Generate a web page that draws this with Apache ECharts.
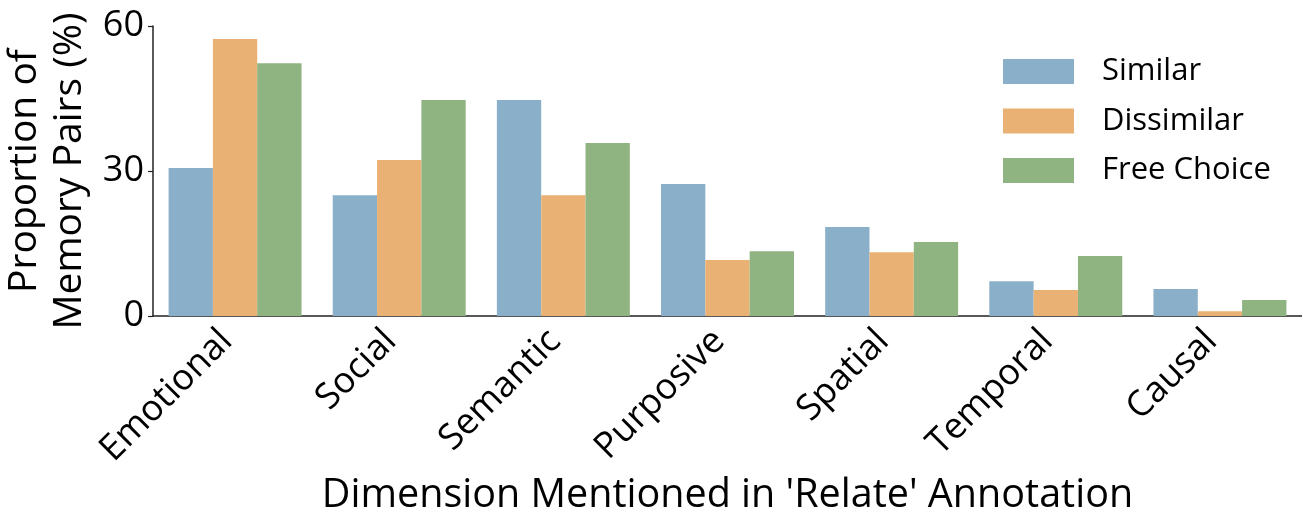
<!DOCTYPE html>
<html><head><meta charset="utf-8">
<script src="https://cdn.jsdelivr.net/npm/echarts@6/dist/echarts.min.js"></script>
<style>html,body{margin:0;padding:0;background:#fff}#c{width:1302px;height:508px}</style>
</head><body><div id="c"></div>
<script>
const categories = ['Emotional','Social','Semantic','Purposive','Spatial','Temporal','Causal'];
const similar    = [30.6, 25.0, 44.7, 27.3, 18.4, 7.2, 5.6];
const dissimilar = [57.3, 32.3, 25.0, 11.6, 13.2, 5.4, 1.0];
const freeChoice = [52.3, 44.7, 35.8, 13.4, 15.3, 12.4, 3.3];
const yTicks = [0, 30, 60];

const FONT = 'Open Sans';
const chart = echarts.init(document.getElementById('c'));
chart.setOption({
  animation: false,
  textStyle: {fontFamily: FONT, color: '#000'},
  grid: {left: 153, right: 0, top: 26, bottom: 192, containLabel: false, outerBoundsMode: 'none'},
  legend: {
    left: 1003, top: 56, orient: 'vertical', padding: 0,
    itemWidth: 71, itemHeight: 25, itemGap: 18.5,
    icon: 'rect',
    textStyle: {fontFamily: FONT, fontSize: 31, color: '#000', padding: [0,0,0,23]},
    data: ['Similar','Dissimilar','Free Choice']
  },
  xAxis: {
    type: 'category', data: categories,
    axisLine: {lineStyle: {color: '#222', width: 1.5}},
    axisTick: {alignWithLabel: true, length: 5, lineStyle: {color: '#222', width: 1.2}},
    axisLabel: {interval: 0, rotate: 45, fontSize: 36, color: '#000', fontFamily: FONT, margin: 11, padding: [0, 12, 0, 0]},
    name: "Dimension Mentioned in 'Relate' Annotation",
    nameLocation: 'middle', nameGap: 156,
    nameTextStyle: {fontSize: 39.5, color: '#000', fontFamily: FONT}
  },
  yAxis: {
    type: 'value', min: 0, max: 60, interval: 30,
    axisLine: {show: true, lineStyle: {color: '#222', width: 1.5}},
    axisTick: {show: true, length: 5, lineStyle: {color: '#222', width: 1.2}},
    splitLine: {show: false},
    axisLabel: {fontSize: 36, color: '#000', fontFamily: FONT, margin: 9,
      formatter: v => yTicks.includes(v) ? String(v) : ''},
    name: 'Proportion of\nMemory Pairs (%)',
    nameLocation: 'middle', nameGap: 56, nameRotate: 90,
    nameTextStyle: {fontSize: 39, lineHeight: 45, color: '#000', fontFamily: FONT}
  },
  series: [
    {name: 'Similar', type: 'bar', data: similar, itemStyle: {color: '#8aafc9'}, barGap: '0%', barCategoryGap: '19%'},
    {name: 'Dissimilar', type: 'bar', data: dissimilar, itemStyle: {color: '#e9b274'}},
    {name: 'Free Choice', type: 'bar', data: freeChoice, itemStyle: {color: '#8fb482'}}
  ]
});
</script></body></html>
